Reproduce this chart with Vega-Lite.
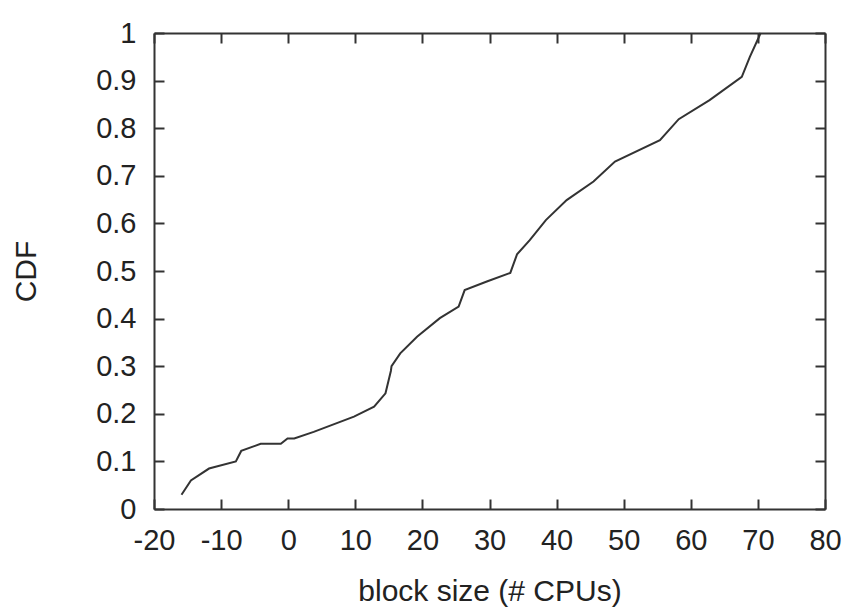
{
  "$schema": "https://vega.github.io/schema/vega-lite/v6.json",
  "width": 671,
  "height": 476,
  "autosize": {"type": "none"},
  "padding": {"left": 154, "top": 33, "right": 26, "bottom": 102},
  "background": "white",
  "config": {
    "view": {"stroke": null},
    "font": "Liberation Sans",
    "axis": {
      "grid": false,
      "domainColor": "#333333",
      "domainWidth": 2,
      "tickColor": "#333333",
      "tickWidth": 2,
      "tickSize": -10,
      "labelFont": "Liberation Sans",
      "labelFontSize": 29,
      "labelColor": "#222222",
      "titleFont": "Liberation Sans",
      "titleFontSize": 30,
      "titleFontWeight": "normal",
      "titleColor": "#222222"
    }
  },
  "data": {
    "values": [
      {"size": -15.9, "cdf": 0.03},
      {"size": -14.5, "cdf": 0.06},
      {"size": -11.8, "cdf": 0.085},
      {"size": -7.8, "cdf": 0.1},
      {"size": -7.0, "cdf": 0.122},
      {"size": -4.1, "cdf": 0.137},
      {"size": -1.1, "cdf": 0.137},
      {"size": -0.1, "cdf": 0.148},
      {"size": 0.9, "cdf": 0.148},
      {"size": 3.8, "cdf": 0.162},
      {"size": 9.8, "cdf": 0.194},
      {"size": 12.8, "cdf": 0.215},
      {"size": 14.5, "cdf": 0.243},
      {"size": 15.3, "cdf": 0.29},
      {"size": 15.4, "cdf": 0.3},
      {"size": 16.7, "cdf": 0.327},
      {"size": 19.2, "cdf": 0.362},
      {"size": 22.6, "cdf": 0.401},
      {"size": 25.4, "cdf": 0.425},
      {"size": 26.3, "cdf": 0.46},
      {"size": 29.6, "cdf": 0.478},
      {"size": 33.1, "cdf": 0.496},
      {"size": 34.1, "cdf": 0.535},
      {"size": 36.0, "cdf": 0.565},
      {"size": 38.4, "cdf": 0.607},
      {"size": 41.5, "cdf": 0.649},
      {"size": 45.5, "cdf": 0.688},
      {"size": 48.7, "cdf": 0.73},
      {"size": 55.4, "cdf": 0.775},
      {"size": 58.2, "cdf": 0.819},
      {"size": 62.8, "cdf": 0.859},
      {"size": 67.6, "cdf": 0.908},
      {"size": 68.8, "cdf": 0.95},
      {"size": 70.1, "cdf": 0.99},
      {"size": 70.4, "cdf": 1.0}
    ]
  },
  "layer": [
    {
      "mark": {"type": "line", "color": "#333333", "strokeWidth": 2},
      "encoding": {
        "x": {
          "field": "size", "type": "quantitative",
          "scale": {"domain": [-20, 80], "nice": false, "zero": false},
          "axis": {
            "orient": "bottom", "values": [-20, -10, 0, 10, 20, 30, 40, 50, 60, 70, 80],
            "labelPadding": 27, "labelFlush": false,
            "labelExpr": "toString(datum.value)",
            "title": "block size (# CPUs)", "titleY": 91, "titleBaseline": "alphabetic"
          }
        },
        "y": {
          "field": "cdf", "type": "quantitative",
          "scale": {"domain": [0, 1], "nice": false},
          "axis": {
            "orient": "left", "values": [0, 0.1, 0.2, 0.3, 0.4, 0.5, 0.6, 0.7, 0.8, 0.9, 1],
            "labelPadding": 28, "labelFlush": false,
            "labelExpr": "datum.value == 0 ? '0' : datum.value == 1 ? '1' : format(datum.value, '.1f')",
            "title": "CDF", "titleX": -119, "titleY": 238, "titleAngle": -90,
            "titleAlign": "center", "titleBaseline": "alphabetic"
          }
        }
      }
    },
    {
      "mark": {"type": "line", "opacity": 0},
      "encoding": {
        "x": {
          "field": "size", "type": "quantitative",
          "scale": {"domain": [-20, 80], "nice": false, "zero": false},
          "axis": {"orient": "top", "values": [-20, -10, 0, 10, 20, 30, 40, 50, 60, 70, 80], "labels": false, "title": null}
        },
        "y": {
          "field": "cdf", "type": "quantitative",
          "scale": {"domain": [0, 1], "nice": false},
          "axis": {"orient": "right", "values": [0, 0.1, 0.2, 0.3, 0.4, 0.5, 0.6, 0.7, 0.8, 0.9, 1], "labels": false, "title": null}
        }
      }
    }
  ],
  "resolve": {"axis": {"x": "independent", "y": "independent"}}
}
